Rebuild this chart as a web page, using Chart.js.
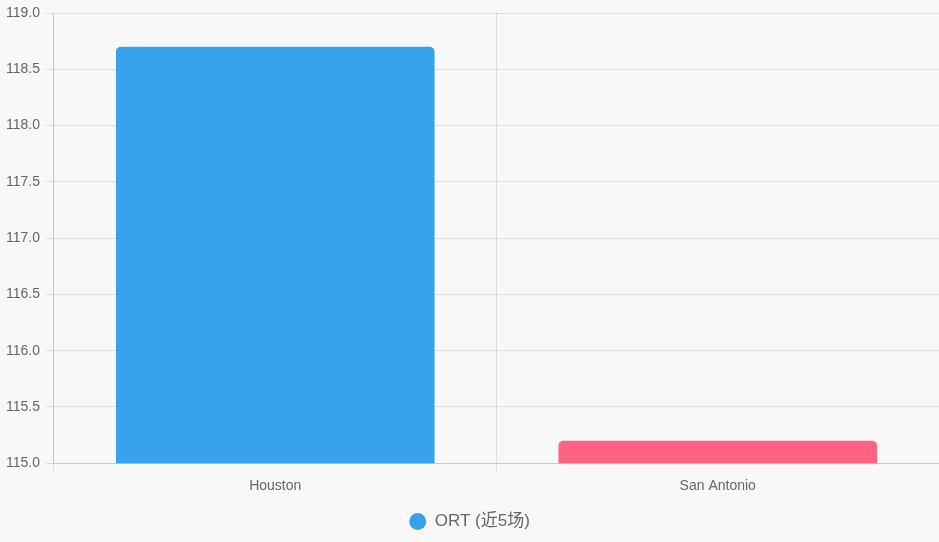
<!DOCTYPE html>
<html>
<head>
<meta charset="utf-8">
<script src="https://cdn.jsdelivr.net/npm/chart.js@4"></script>
<style>
  html, body { margin: 0; padding: 0; background: #f8f8f6; }
  #wrap { width: 939px; height: 542px; }
</style>
</head>
<body>
<div id="wrap"><canvas id="barChart"></canvas></div>
<script>
const teams = ['Houston', 'San Antonio'];
const ortValues = [118.7, 115.2];
const barColors = ['#36a2eb', '#ff6384'];
const seriesLabel = 'ORT (近5场)';

Chart.defaults.font.family = "'Helvetica Neue', Helvetica, Arial, 'Noto Sans CJK SC', sans-serif";
Chart.defaults.color = '#666';

const ctx = document.getElementById('barChart').getContext('2d');
new Chart(ctx, {
    type: 'bar',
    data: {
        labels: teams,
        datasets: [{
            label: seriesLabel,
            data: ortValues,
            backgroundColor: barColors,
            borderRadius: 5,
            borderSkipped: 'bottom'
        }]
    },
    options: {
        responsive: true,
        maintainAspectRatio: false,
        animation: false,
        layout: { padding: { top: 0, left: 0, bottom: 2 } },
        scales: {
            y: {
                min: 115,
                max: 119,
                ticks: { stepSize: 0.5, padding: 6, font: { size: 14, lineHeight: 1 }, callback: v => v.toFixed(1) }
            },
            x: {
                ticks: { padding: 7, font: { size: 14 } }
            }
        },
        plugins: {
            legend: {
                position: 'bottom',
                labels: { usePointStyle: true, pointStyle: 'circle', padding: 11, font: { size: 17 }, boxHeight: 12 }
            }
        }
    }
});
</script>
</body>
</html>
